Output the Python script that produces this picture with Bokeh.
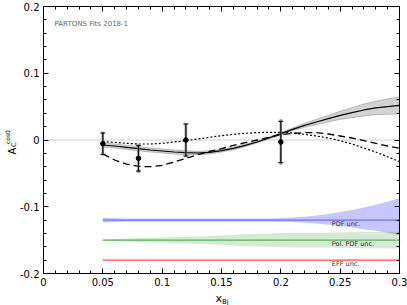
import numpy as np
from bokeh.plotting import figure
from bokeh.models import (Range1d, LinearAxis, FixedTicker, CustomJSTickFormatter, Label)
from bokeh.embed import file_html
from bokeh.resources import INLINE

# ---------------- data ----------------
x_data = [0.05, 0.08, 0.12, 0.20]
y_data = [-0.0055, -0.0275, 0.0, -0.003]
err_stat = [0.016, 0.019, 0.024, 0.031]
err_tot = [0.018, 0.022, 0.025, 0.034]

x_curve = [0.05, 0.06, 0.07, 0.08, 0.09, 0.10, 0.11, 0.12, 0.13, 0.14, 0.15, 0.16, 0.17,
           0.18, 0.19, 0.20, 0.21, 0.22, 0.23, 0.24, 0.25, 0.26, 0.27, 0.28, 0.29, 0.30]
fit_solid = [-0.0075, -0.009, -0.011, -0.013, -0.015, -0.0165, -0.018, -0.019, -0.0195, -0.0185,
             -0.016, -0.0125, -0.008, -0.003, 0.003, 0.0095, 0.016, 0.022, 0.027, 0.032,
             0.037, 0.041, 0.045, 0.048, 0.050, 0.052]
fit_band = [0.003, 0.003, 0.003, 0.003, 0.003, 0.003, 0.003, 0.003, 0.0025, 0.0025,
            0.002, 0.002, 0.002, 0.0015, 0.0015, 0.0015, 0.002, 0.003, 0.004, 0.005,
            0.006, 0.0075, 0.009, 0.010, 0.0115, 0.0125]
fit_dotted = [-0.0025, -0.0035, -0.005, -0.006, -0.006, -0.005, -0.003, -0.001, 0.0015, 0.004,
              0.0065, 0.0085, 0.010, 0.011, 0.0115, 0.0115, 0.0105, 0.0085, 0.006, 0.003,
              -0.001, -0.006, -0.012, -0.018, -0.025, -0.0325]
fit_dashed = [-0.021, -0.030, -0.036, -0.0395, -0.040, -0.038, -0.033, -0.0275, -0.022, -0.017,
              -0.013, -0.008, -0.004, 0.000, 0.004, 0.008, 0.010, 0.011, 0.011, 0.009,
              0.006, 0.003, -0.001, -0.005, -0.009, -0.0125]

pdf_center = -0.12
pdf_up = [0.0035, 0.003, 0.0025, 0.0025, 0.0025, 0.0025, 0.0025, 0.0025, 0.0025, 0.0025,
          0.0025, 0.0025, 0.0025, 0.0025, 0.0025, 0.003, 0.004, 0.005, 0.007, 0.009,
          0.012, 0.015, 0.019, 0.023, 0.028, 0.033]
pdf_dn = [0.0035, 0.003, 0.0025, 0.0025, 0.0025, 0.0025, 0.0025, 0.0025, 0.0025, 0.0025,
          0.0025, 0.0025, 0.0025, 0.0025, 0.0025, 0.003, 0.003, 0.004, 0.005, 0.007,
          0.009, 0.011, 0.014, 0.016, 0.019, 0.0225]
pol_center = -0.15
pol_half = [0.001, 0.0015, 0.002, 0.003, 0.0035, 0.004, 0.0045, 0.005, 0.0055, 0.006,
            0.007, 0.008, 0.009, 0.0095, 0.010, 0.0105, 0.011, 0.011, 0.011, 0.0112,
            0.0115, 0.0117, 0.012, 0.0122, 0.0124, 0.0125]
eff_center = -0.18
eff_half = 0.0012

x_ticks = [0, 0.05, 0.1, 0.15, 0.2, 0.25, 0.3]
y_ticks = [-0.2, -0.1, 0, 0.1, 0.2]
x_minor = [round(0.01 * i, 2) for i in range(31)]
y_minor = [round(-0.2 + 0.02 * i, 2) for i in range(21)]

FONT = "DejaVu Sans"

# ---------------- figure ----------------
# The left border is made wide enough to hold the axis and the out-of-frame labels,
# and the figure is shifted left so that the frame starts at the reference position.
LEFT = 80
SHIFT = LEFT - 43
p = figure(width=407 + SHIFT, height=305, output_backend="svg", toolbar_location=None,
           x_range=Range1d(0, 0.3), y_range=Range1d(-0.2, 0.2),
           min_border_left=LEFT, min_border_right=8, min_border_top=6, min_border_bottom=32,
           styles={"margin-left": f"-{SHIFT}px"})
p.xgrid.visible = False
p.ygrid.visible = False
p.outline_line_color = "black"
p.background_fill_color = "white"
p.border_fill_color = "white"

fmt = CustomJSTickFormatter(code="return (Math.round(tick*100)/100).toString();")
blank_fmt = CustomJSTickFormatter(code="return '';")

def style_axis(ax, ticks, minor, show_labels):
    ax.ticker = FixedTicker(ticks=ticks, minor_ticks=minor)
    ax.major_tick_in = 5
    ax.major_tick_out = 0
    ax.minor_tick_in = 3
    ax.minor_tick_out = 0
    ax.axis_line_color = "black"
    ax.major_tick_line_color = "black"
    ax.minor_tick_line_color = "black"
    ax.major_label_text_font = FONT
    ax.major_label_text_color = "black"
    if show_labels:
        ax.formatter = fmt
        ax.major_label_text_font_size = "10px"
        ax.major_label_standoff = 4
    else:
        ax.formatter = blank_fmt
        ax.major_label_text_font_size = "1px"
        ax.major_label_standoff = 0

style_axis(p.xaxis[0], x_ticks, x_minor, True)
style_axis(p.yaxis[0], y_ticks, y_minor, True)
top = LinearAxis()
right = LinearAxis()
style_axis(top, x_ticks, x_minor, False)
style_axis(right, y_ticks, y_minor, False)
p.add_layout(top, "above")
p.add_layout(right, "right")

# zero line
p.line([0, 0.3], [0, 0], line_color="#d0d0d0", line_width=1)

xc = np.array(x_curve)

# uncertainty bands at bottom
pdf_u = pdf_center + np.array(pdf_up)
pdf_l = pdf_center - np.array(pdf_dn)
p.varea(x=xc, y1=pdf_l, y2=pdf_u, fill_color="blue", fill_alpha=0.22)
p.line(xc, [pdf_center] * len(xc), line_color="blue", line_alpha=0.45, line_width=1.3)

pol_u = pol_center + np.array(pol_half)
pol_l = pol_center - np.array(pol_half)
p.varea(x=xc, y1=pol_l, y2=pol_u, fill_color="green", fill_alpha=0.17)
p.line(xc, [pol_center] * len(xc), line_color="green", line_alpha=0.55, line_width=1.2)

p.varea(x=xc, y1=[eff_center - eff_half] * len(xc), y2=[eff_center + eff_half] * len(xc),
        fill_color="red", fill_alpha=0.25)
p.line(xc, [eff_center] * len(xc), line_color="red", line_alpha=0.45, line_width=1.2)

# fit band + curves
fs = np.array(fit_solid)
fb = np.array(fit_band)
p.varea(x=xc, y1=fs - fb, y2=fs + fb, fill_color="gray", fill_alpha=0.35)
p.line(xc, fs + fb, line_color="#999999", line_width=0.6)
p.line(xc, fs - fb, line_color="#999999", line_width=0.6)
p.line(xc, fs, line_color="black", line_width=1.2)
p.line(xc, fit_dotted, line_color="black", line_width=1.2, line_dash="2 2")
p.line(xc, fit_dashed, line_color="black", line_width=1.3, line_dash="7 4")

# data points
xd = np.array(x_data)
yd = np.array(y_data)
es = np.array(err_stat)
et = np.array(err_tot)
p.segment(xd, yd - et, xd, yd + et, line_color="#777777", line_width=2.5, line_alpha=0.8)
p.segment(xd, yd - es, xd, yd + es, line_color="black", line_width=1)
p.scatter(np.concatenate([xd, xd]), np.concatenate([yd - es, yd + es]), marker="dash",
          size=5, line_color="black", line_width=1)
p.scatter(xd, yd, marker="circle", size=4.5, fill_color="black", line_color="black")

# texts
def add_label(x, y, text, size, color="black", angle=0.0, baseline="middle", place="center"):
    lab = Label(x=x, y=y, text=text, text_font=FONT, text_font_size=size,
                text_color=color, angle=angle, text_align="left",
                text_baseline=baseline)
    if place == "center":
        p.add_layout(lab)
    else:
        p.add_layout(lab, place)

add_label(0.0093, 0.174, "PARTONS Fits 2018-1", "7px", color="#666666")
add_label(0.243, -0.1255, "PDF unc.", "6.5px", color="#333333")
add_label(0.243, -0.1565, "Pol. PDF unc.", "6.5px", color="#333333")
add_label(0.243, -0.1865, "EFF unc.", "6.5px", color="#333333")

# x axis label  x_Bj (kept in a side panel so it is not clipped to the frame)
add_label(0.1449, -0.2375, "x", "11px", baseline="alphabetic", place="left")
add_label(0.1504, -0.2434, "Bj", "7px", baseline="alphabetic", place="left")

# y axis label  A_C^cos0 (rotated)
add_label(-0.02654, -0.0217, "A", "10px", angle=np.pi / 2, baseline="alphabetic", place="left")
add_label(-0.02486, -0.0105, "C", "6.5px", angle=np.pi / 2, baseline="alphabetic", place="left")
add_label(-0.02992, -0.0060, "cos0", "6px", angle=np.pi / 2, baseline="alphabetic", place="left")

open("out.html", "w").write(file_html(p, INLINE))
